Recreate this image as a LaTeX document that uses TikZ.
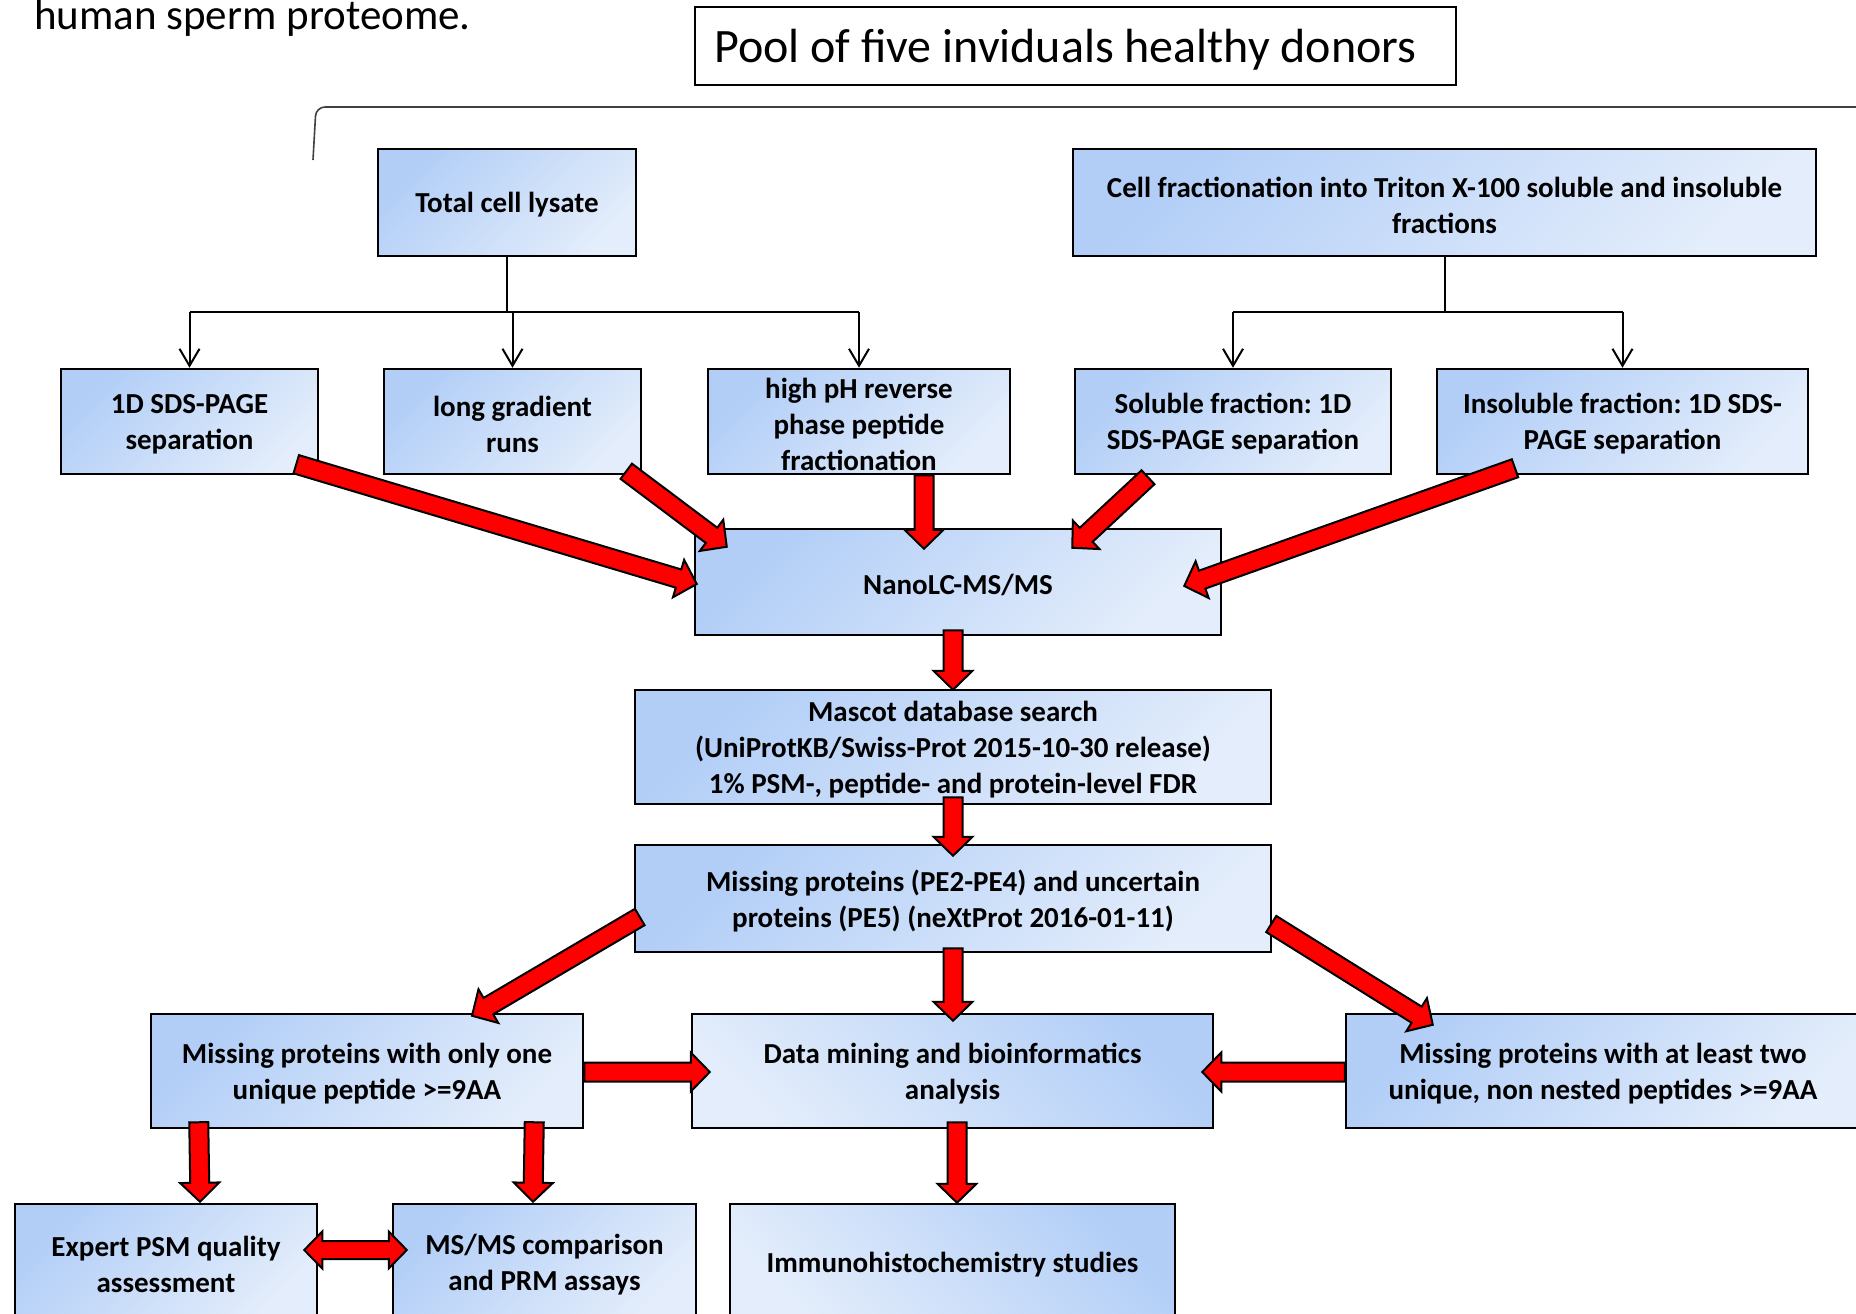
\documentclass[tikz,border=0pt]{standalone}
\usepackage{fontspec}
\setmainfont{Carlito}
\frenchspacing
\usetikzlibrary{calc,arrows.meta}
\definecolor{boxdark}{HTML}{B2CEF7}
\definecolor{boxlight}{HTML}{E3EDFB}
\definecolor{arrred}{HTML}{FF0000}
\newcommand{\boxfont}{\fontsize{29}{36}\selectfont\bfseries}
\tikzset{
  flowbox/.style={draw=black, line width=2.5pt, rectangle, inner sep=0pt,
    top color=boxdark, bottom color=boxlight, shading angle=45},
  flowboxr/.style={flowbox, shading angle=-45},
  boxtext/.style={align=center, font=\boxfont, inner sep=0pt, yshift=-2.5pt},
  treeline/.style={line width=2pt, draw=black},
  treearrow/.style={treeline, -{Straight Barb[length=17pt,width=20pt]}},
  bracketline/.style={line width=1.6pt, draw=black!75},
  redarr/.style={fill=arrred, draw=black, line width=2pt, line join=miter},
}
\newcommand{\blockarrow}[2]{%
  \path (#2) coordinate (ba-tip) ($(#2)!19pt!(#1)$) coordinate (ba-hb);
  \draw[redarr] ($(#1)!9.5pt!90:(#2)$) -- ($(ba-hb)!9.5pt!90:(ba-tip)$)
    -- ($(ba-hb)!19.5pt!90:(ba-tip)$) -- (ba-tip) -- ($(ba-hb)!19.5pt!-90:(ba-tip)$)
    -- ($(ba-hb)!9.5pt!-90:(ba-tip)$) -- ($(#1)!9.5pt!-90:(#2)$) -- cycle;}
\newcommand{\blockdarrow}[2]{%
  \path ($(#1)!18pt!(#2)$) coordinate (bd-h1) ($(#2)!18pt!(#1)$) coordinate (bd-h2);
  \draw[redarr] (#1) -- ($(bd-h1)!18.5pt!90:(#2)$) -- ($(bd-h1)!9pt!90:(#2)$)
    -- ($(bd-h2)!9pt!-90:(#1)$) -- ($(bd-h2)!18.5pt!-90:(#1)$) -- (#2)
    -- ($(bd-h2)!18.5pt!90:(#1)$) -- ($(bd-h2)!9pt!90:(#1)$)
    -- ($(bd-h1)!9pt!-90:(#2)$) -- ($(bd-h1)!18.5pt!-90:(#2)$) -- cycle;}
\begin{document}
\begin{tikzpicture}[x=1pt,y=-1pt]
\useasboundingbox (0,0) rectangle (1856,1314);
\clip (0,0) rectangle (1856,1314);

% caption and title
\node[anchor=base west, inner sep=0pt, font=\fontsize{43}{51}\selectfont] (caption) at (34,30) {human sperm proteome.};
\node[draw=black, line width=2pt, minimum width=761pt, minimum height=78pt, inner sep=0pt] (pool) at (1075.5,46) {};
\node[anchor=base west, inner sep=0pt, font=\fontsize{48}{57}\selectfont] (pooltext) at ($(pool.west)+(20,17)$) {Pool of five inviduals healthy donors};

% bracket
\coordinate (brA) at (313,160);
\coordinate (brB) at (316,107);
\coordinate (brC) at (1860,107);
\draw[bracketline, rounded corners=9pt] (brA) -- (brB) -- (brC);

% boxes
\node[flowbox, minimum width=258pt, minimum height=107pt, label={[boxtext]center:{Total cell lysate}}] (total) at (507,202.5) {};
\node[flowbox, minimum width=743pt, minimum height=107pt, label={[boxtext]center:{Cell fractionation into Triton X-100 soluble and insoluble\\fractions}}] (frac) at (1444.5,202.5) {};
\node[flowbox, minimum width=257pt, minimum height=105pt, label={[boxtext]center:{1D SDS-PAGE\\separation}}] (sds) at (189.5,421.5) {};
\node[flowbox, minimum width=257pt, minimum height=105pt, label={[boxtext]center:{long gradient\\runs}}] (grad) at (512.5,421.5) {};
\node[flowbox, minimum width=302pt, minimum height=105pt, label={[boxtext]center:{high pH reverse\\phase peptide\\fractionation}}] (hph) at (859,421.5) {};
\node[flowbox, minimum width=316pt, minimum height=105pt, label={[boxtext]center:{Soluble fraction: 1D\\SDS-PAGE separation}}] (sol) at (1233,421.5) {};
\node[flowbox, minimum width=371pt, minimum height=105pt, label={[boxtext]center:{Insoluble fraction: 1D SDS-\\PAGE separation}}] (insol) at (1622.5,421.5) {};
\node[flowbox, minimum width=526pt, minimum height=106pt, label={[boxtext]center:{NanoLC-MS/MS}}] (nano) at (958,582) {};
\node[flowbox, minimum width=636pt, minimum height=114pt, label={[boxtext]center:{Mascot database search\\(UniProtKB/Swiss-Prot 2015-10-30 release)\\1\% PSM-, peptide- and protein-level FDR}}] (mascot) at (953,747) {};
\node[flowbox, minimum width=636pt, minimum height=107pt, label={[boxtext]center:{Missing proteins (PE2-PE4) and uncertain\\proteins (PE5) (neXtProt 2016-01-11)}}] (miss) at (953,898.5) {};
\node[flowbox, minimum width=432pt, minimum height=114pt, label={[boxtext]center:{Missing proteins with only one\\unique peptide >=9AA}}] (one) at (367,1071) {};
\node[flowboxr, minimum width=521pt, minimum height=114pt, label={[boxtext]center:{Data mining and bioinformatics\\analysis}}] (data) at (952.5,1071) {};
\node[flowbox, minimum width=514pt, minimum height=114pt, label={[boxtext]center:{Missing proteins with at least two\\unique, non nested peptides >=9AA}}] (two) at (1603,1071) {};
\node[flowbox, minimum width=302pt, minimum height=116pt, label={[boxtext]center:{Expert PSM quality\\assessment}}] (expert) at (166,1262) {};
\node[flowbox, minimum width=303pt, minimum height=116pt, label={[boxtext]center:{MS/MS comparison\\and PRM assays}}] (msms) at (544.5,1262) {};
\node[flowboxr, minimum width=445pt, minimum height=116pt, label={[boxtext]center:{Immunohistochemistry studies}}] (immuno) at (952.5,1262) {};

% tree connectors
\coordinate (tbar) at (0,312);
\draw[treeline] (total.south) -- (total.south |- tbar);
\draw[treeline] (sds.north |- tbar) -- (hph.north |- tbar);
\draw[treearrow] (sds.north |- tbar) -- (sds.north);
\draw[treearrow] (grad.north |- tbar) -- (grad.north);
\draw[treearrow] (hph.north |- tbar) -- (hph.north);
\draw[treeline] (frac.south) -- (frac.south |- tbar);
\draw[treeline] (sol.north |- tbar) -- (insol.north |- tbar);
\draw[treearrow] (sol.north |- tbar) -- (sol.north);
\draw[treearrow] (insol.north |- tbar) -- (insol.north);

% red block arrows
\coordinate (a1s) at ($(sds.south east)+(-23,-11)$);
\coordinate (a1e) at ($(nano.west)+(3,2)$);
\coordinate (a2s) at ($(grad.south east)+(-16,-4)$);
\coordinate (a2e) at ($(nano.north west)+(33,19)$);
\coordinate (a3s) at ($(hph.south)+(65,0)$);
\coordinate (a3e) at ($(nano.north)+(-34,21)$);
\coordinate (a4s) at ($(sol.south)+(-85,2)$);
\coordinate (a4e) at ($(nano.north east)+(-150,20)$);
\coordinate (a5s) at ($(insol.south)+(-107.5,-7)$);
\coordinate (a5e) at ($(nano.east)+(-38,4)$);
\coordinate (a6s) at ($(nano.south)+(-5,-6)$);
\coordinate (a6e) at ($(mascot.north)+(0,1)$);
\coordinate (a7s) at ($(mascot.south)+(0,-8)$);
\coordinate (a7e) at ($(miss.north)+(0,12)$);
\coordinate (a8s) at ($(miss.west)+(6,18.5)$);
\coordinate (a8e) at ($(one.north)+(105,3)$);
\coordinate (a9s) at ($(miss.south)+(0,-5)$);
\coordinate (a9e) at ($(data.north)+(0.5,8)$);
\coordinate (a10s) at ($(miss.east)+(-1,25.5)$);
\coordinate (a10e) at ($(two.north west)+(88,12)$);
\coordinate (a11s) at ($(one.east)+(0,1)$);
\coordinate (a11e) at ($(data.west)+(19,1)$);
\coordinate (a12s) at ($(two.west)+(0,1)$);
\coordinate (a12e) at ($(data.east)+(-12,1)$);
\coordinate (a13s) at ($(data.south)+(4.5,-7)$);
\coordinate (a13e) at ($(immuno.north)+(4.5,0)$);
\coordinate (a14s) at ($(one.south west)+(49,-7)$);
\coordinate (a14e) at ($(expert.north)+(34,-1)$);
\coordinate (a15s) at ($(one.south east)+(-50,-7)$);
\coordinate (a15e) at ($(msms.north)+(-11.5,-1)$);
\coordinate (a16s) at ($(expert.east)+(-14,-12)$);
\coordinate (a16e) at ($(msms.west)+(15,-12)$);

\blockarrow{a1s}{a1e}
\blockarrow{a2s}{a2e}
\blockarrow{a3s}{a3e}
\blockarrow{a4s}{a4e}
\blockarrow{a5s}{a5e}
\blockarrow{a6s}{a6e}
\blockarrow{a7s}{a7e}
\blockarrow{a8s}{a8e}
\blockarrow{a9s}{a9e}
\blockarrow{a10s}{a10e}
\blockarrow{a11s}{a11e}
\blockarrow{a12s}{a12e}
\blockarrow{a13s}{a13e}
\blockarrow{a14s}{a14e}
\blockarrow{a15s}{a15e}
\blockdarrow{a16s}{a16e}
\end{tikzpicture}
\end{document}
